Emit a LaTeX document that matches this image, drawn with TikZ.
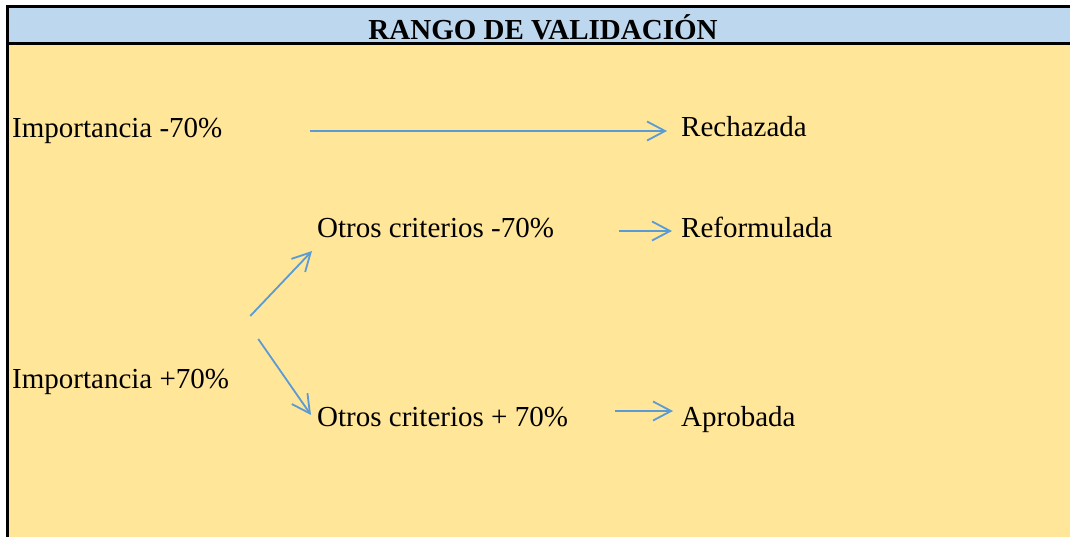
\documentclass[tikz,border=0pt]{standalone}
\usepackage{fontspec}
\setmainfont{Liberation Serif}
\usetikzlibrary{arrows.meta}
\definecolor{hdrblue}{HTML}{BDD7EE}
\definecolor{bgyellow}{HTML}{FFE699}
\definecolor{arrblue}{HTML}{5B9BD5}
\begin{document}
\begin{tikzpicture}[x=1pt,y=-1pt,
txt/.style ={anchor=base west, inner sep=0pt,
  text height=20pt, text depth=6pt,
  font=\fontsize{29}{34}\selectfont
},
arr/.style ={draw=arrblue, line width=1.8pt,
  -{Straight Barb[length=18pt,width=19pt]}
}]
\useasboundingbox (0,0) rectangle (1070,537);
\fill[white] (0,0) rectangle (1070,537);
\fill[hdrblue] (8,8) rectangle (1070,44);
\fill[bgyellow] (8,44) rectangle (1070,537);
\draw[line width=3pt] (6,7) -- (1070,7);
\draw[line width=3pt] (8,44) -- (1070,44);
\draw[line width=3pt] (7.5,5.5) -- (7.5,537);
\node (title) at (543,40) [anchor=base, inner sep=0pt,
  font=\fontsize{29}{34}\selectfont\bfseries] {RANGO DE VALIDACIÓN};
\node (imp1) at (12,138) [txt] {Importancia -70\%};
\node (rech) at (681,137) [txt] {Rechazada};
\node (o1) at (317,238) [txt] {Otros criterios -70\%};
\node (refo) at (681,238) [txt] {Reformulada};
\node (imp2) at (12,388) [txt] {Importancia +70\%};
\node (o2) at (317,426) [txt] {Otros criterios + 70\%};
\node (apro) at (681,426) [txt] {Aprobada};
\draw[arr, shorten <=87pt, shorten >=14pt] (imp1.east) -- (imp1.east -| rech.west);
\draw[arr, shorten <=65pt, shorten >=9pt] (o1.east) -- (refo.west);
\draw[arr, shorten <=47pt, shorten >=8pt] ([yshift=8pt]o2.east) -- ([yshift=8pt]apro.west);
\draw[arr] ([shift={(21pt,65pt)}]imp2.east) -- ([shift={(-5pt,-20pt)}]o1.west);
\draw[arr] ([shift={(29pt,42pt)}]imp2.east) -- ([shift={(-6pt,4pt)}]o2.west);
\end{tikzpicture}
\end{document}
